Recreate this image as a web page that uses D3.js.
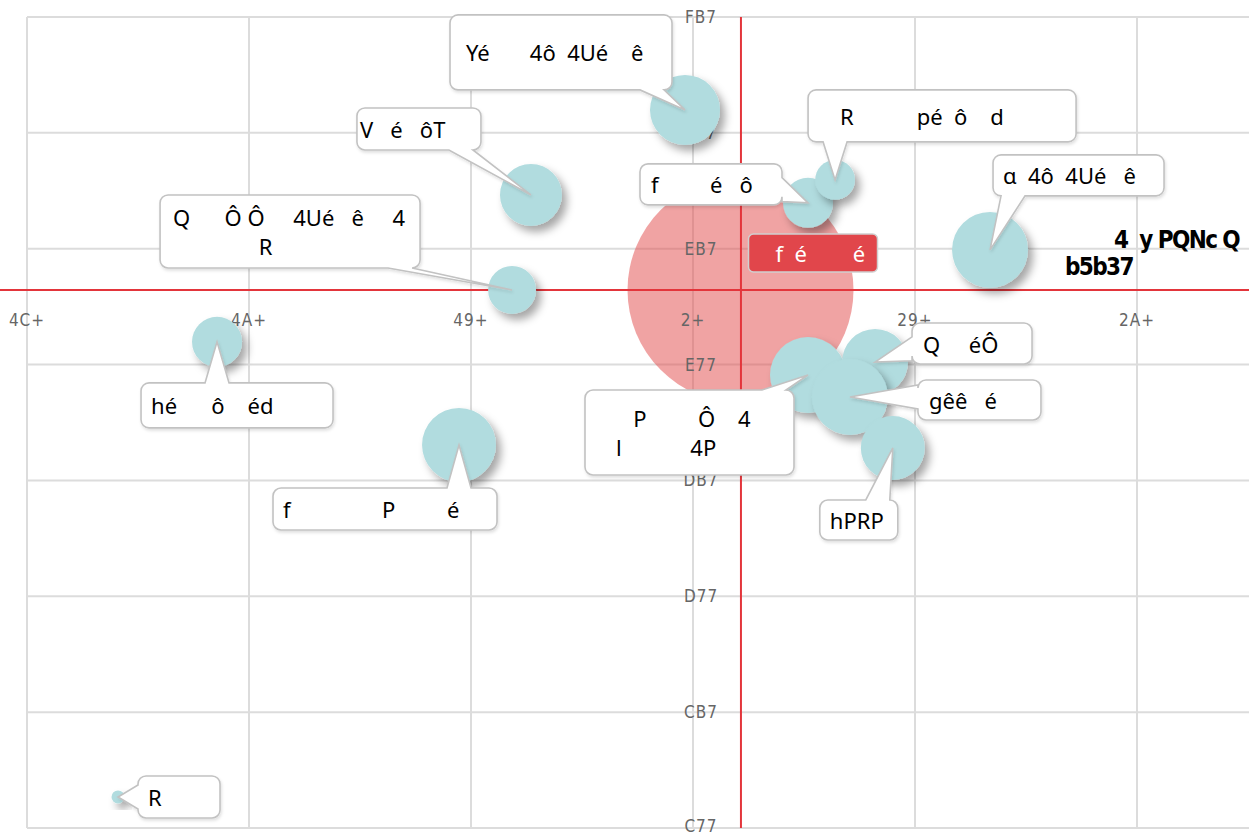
<!DOCTYPE html>
<html>
<head>
<meta charset="utf-8">
<script src="https://cdn.jsdelivr.net/npm/d3@7"></script>
<style>
  html, body { margin: 0; padding: 0; background: #fff; }
  svg { display: block; }
  .tick-label { font-family: "DejaVu Sans Condensed", "DejaVu Sans", sans-serif; font-stretch: condensed; font-size: 17px; fill: #666; letter-spacing: 1px; }
  .box-text { font-family: "Noto Sans", "Open Sans", sans-serif; font-size: 22px; fill: #000; white-space: pre; }
  .mark-text { font-family: "DejaVu Sans Condensed", "DejaVu Sans", sans-serif; font-stretch: condensed; font-weight: bold; font-size: 24px; fill: #000; white-space: pre; letter-spacing: -1.6px; }
</style>
</head>
<body>
<svg id="chart" width="1249" height="836"></svg>
<script>
// ---------------- data ----------------
const xTickValues = [-30, -20, -10, 0, 10, 20];
const xTickLabels = ["4C+", "4A+", "49+", "2+", "29+", "2A+"];
const yTickValues = [300, 350, 400, 450, 500, 550, 600, 650];
const yTickLabels = ["C77", "CB7", "D77", "DB7", "E77", "EB7", "F77", "FB7"];

const bubbleLabels = [
  ["Yé       4ô  4Ué    ê"],
  ["V   é   ôT"],
  ["Q      Ô Ô     4Ué   ê     4", "               R"],
  ["hé      ô    éd"],
  ["f                P         é"],
  ["R"],
  ["f         é   ô"],
  ["R           pé  ô    d"],
  ["ɑ  4ô  4Ué   ê"],
  ["   P         Ô    4", "l            4P"],
  ["Q     éÔ"],
  ["gêê   é"],
  ["hPRP"]
];
const bubbleX    = [-0.36, -7.30, -8.15, -21.44, -10.54, -25.9, 5.18, 6.40, 13.38, 5.18, 8.20, 7.07, 9.00];
const bubbleY    = [609.9, 573.2, 532.2, 509.8, 465.3, 313.4, 569.8, 579.7, 549.5, 495.5, 501.1, 486.0, 464.0];
const bubbleSize = [96, 75, 45, 49, 107, 3.3, 49, 31, 113, 113, 85, 113, 80];

const focusLabel = ["f  é        é"];
const focusX = 2.14;
const focusY = 532.2;
const focusSize = 1000;

const avgX = 2.16;
const avgY = 532.2;
const avgLabel = ["4  y PQNc Q", "b5b37"];

// ---------------- layout (label boxes relative to their bubble) ----------------
const labelLayout = [
  {dx: -235, dy: -95, w: 222, h: 75, pad: 16},
  {dx: -174, dy: -87, w: 124, h: 42, pad: 3},
  {dx: -352, dy: -95, w: 260, h: 73, pad: 13},
  {dx: -76,  dy: 41,  w: 192, h: 45, pad: 10},
  {dx: -186, dy: 43,  w: 224, h: 42, pad: 10},
  {dx: 20,   dy: -21, w: 82,  h: 42, pad: 10},
  {dx: -168, dy: -39, w: 142, h: 41, pad: 11},
  {dx: -27,  dy: -90, w: 268, h: 52, pad: 32},
  {dx: 3,    dy: -95, w: 171, h: 41, pad: 10},
  {dx: -223, dy: 15,  w: 209, h: 85, pad: 31},
  {dx: 37,   dy: -39, w: 120, h: 41, pad: 11},
  {dx: 68,   dy: -17, w: 123, h: 40, pad: 11},
  {dx: -73,  dy: 52,  w: 78,  h: 40, pad: 10}
];
const focusLayout = {dx: 8, dy: -56, w: 129, h: 38, pad: 27};

// ---------------- chart ----------------
const W = 1249, H = 836;
const svg = d3.select("#chart");
const x = d3.scaleLinear().domain([-30, 20]).range([27, 1137]);
const y = d3.scaleLinear().domain([300, 650]).range([828, 17]);
const r = d3.scaleSqrt().domain([0, 1000]).range([0, 113]);
const plotRight = W;

const defs = svg.append("defs");
const sh = defs.append("filter").attr("id", "shadow").attr("x", "-50%").attr("y", "-50%").attr("width", "200%").attr("height", "200%");
sh.append("feDropShadow").attr("dx", 5).attr("dy", 6).attr("stdDeviation", 4).attr("flood-color", "#000").attr("flood-opacity", 0.35);
const sh2 = defs.append("filter").attr("id", "boxshadow").attr("x", "-20%").attr("y", "-20%").attr("width", "140%").attr("height", "140%");
sh2.append("feDropShadow").attr("dx", 1).attr("dy", 2).attr("stdDeviation", 1.5).attr("flood-color", "#000").attr("flood-opacity", 0.12);

// grid
const grid = svg.append("g");
grid.selectAll("line.v").data(xTickValues).join("line")
  .attr("x1", d => x(d)).attr("x2", d => x(d))
  .attr("y1", y(650)).attr("y2", y(300))
  .attr("stroke", "#dcdcdc").attr("stroke-width", 2);
grid.selectAll("line.h").data(yTickValues).join("line")
  .attr("x1", x(-30)).attr("x2", plotRight)
  .attr("y1", d => y(d)).attr("y2", d => y(d))
  .attr("stroke", "#dcdcdc").attr("stroke-width", 2);

// focus bubble
svg.append("circle")
  .attr("cx", x(focusX)).attr("cy", y(focusY)).attr("r", r(focusSize))
  .attr("fill", "rgba(226,72,72,0.5)");

// axis labels
const xAxisY = y(avgY) + 30;
svg.append("g").selectAll("text").data(xTickValues).join("text")
  .attr("class", "tick-label")
  .attr("x", d => x(d)).attr("y", xAxisY)
  .attr("text-anchor", "middle").attr("dominant-baseline", "central")
  .text((d, i) => xTickLabels[i]);
svg.append("g").selectAll("text").data(yTickValues).join("text")
  .attr("class", "tick-label")
  .attr("x", x(0) + 8).attr("y", d => Math.min(y(d), 826))
  .attr("text-anchor", "middle").attr("dominant-baseline", "central")
  .text((d, i) => yTickLabels[i]);

// average lines
svg.append("line")
  .attr("x1", 0).attr("x2", W).attr("y1", y(avgY)).attr("y2", y(avgY))
  .attr("stroke", "#e3353b").attr("stroke-width", 2);
svg.append("line")
  .attr("x1", x(avgX)).attr("x2", x(avgX)).attr("y1", y(650)).attr("y2", y(300))
  .attr("stroke", "#e3353b").attr("stroke-width", 2);

// bubbles
const pts = bubbleX.map((v, i) => ({
  cx: x(v), cy: y(bubbleY[i]), rr: r(bubbleSize[i]), lines: bubbleLabels[i], lay: labelLayout[i]
}));
svg.append("g").selectAll("circle").data(pts).join("circle")
  .attr("cx", d => d.cx).attr("cy", d => d.cy).attr("r", d => d.rr)
  .attr("fill", "#b1dcdf").attr("filter", "url(#shadow)");

// callout path
function calloutPath(bx, by, w, h, rad, tx, ty) {
  const hw = 12;
  let side;
  if (ty < by) side = "top";
  else if (ty > by + h) side = "bottom";
  else if (tx < bx) side = "left";
  else side = "right";
  const cx = Math.max(bx + rad + hw, Math.min(bx + w - rad - hw, tx));
  const cy = Math.max(by + rad + hw * 0.6, Math.min(by + h - rad - hw * 0.6, ty));
  const hv = Math.min(hw, (h - 2 * rad) / 2);
  let p = `M${bx + rad},${by}`;
  if (side === "top") p += `L${cx - hw},${by}L${tx},${ty}L${cx + hw},${by}`;
  p += `L${bx + w - rad},${by}A${rad},${rad} 0 0 1 ${bx + w},${by + rad}`;
  if (side === "right") p += `L${bx + w},${cy - hv}L${tx},${ty}L${bx + w},${cy + hv}`;
  p += `L${bx + w},${by + h - rad}A${rad},${rad} 0 0 1 ${bx + w - rad},${by + h}`;
  if (side === "bottom") p += `L${cx + hw},${by + h}L${tx},${ty}L${cx - hw},${by + h}`;
  p += `L${bx + rad},${by + h}A${rad},${rad} 0 0 1 ${bx},${by + h - rad}`;
  if (side === "left") p += `L${bx},${cy + hv}L${tx},${ty}L${bx},${cy - hv}`;
  p += `L${bx},${by + rad}A${rad},${rad} 0 0 1 ${bx + rad},${by}Z`;
  return p;
}

const lineH = 29;
const lg = svg.append("g");
pts.forEach(d => {
  const L = d.lay;
  const bx = d.cx + L.dx, by = d.cy + L.dy;
  lg.append("path")
    .attr("d", calloutPath(bx, by, L.w, L.h, 8, d.cx, d.cy))
    .attr("fill", "#fff").attr("stroke", "#c2c2c2").attr("stroke-width", 1.6)
    .attr("filter", "url(#boxshadow)");
  const n = d.lines.length;
  const mid = by + L.h / 2;
  d.lines.forEach((t, k) => {
    lg.append("text").attr("class", "box-text")
      .attr("x", bx + L.pad)
      .attr("y", mid + (k - (n - 1) / 2) * lineH)
      .attr("dominant-baseline", "central")
      .text(t);
  });
});

// focus label
{
  const fx = x(focusX), fy = y(focusY), L = focusLayout;
  const bx = fx + L.dx, by = fy + L.dy;
  lg.append("rect").attr("x", bx).attr("y", by).attr("width", L.w).attr("height", L.h)
    .attr("rx", 5).attr("fill", "#e1464b").attr("stroke", "#d0d0d0").attr("stroke-width", 1.5);
  lg.append("text").attr("class", "box-text")
    .attr("x", bx + L.pad).attr("y", by + L.h / 2)
    .attr("dominant-baseline", "central").style("fill", "#fff")
    .text(focusLabel[0]);
}

// average line label
svg.append("text").attr("class", "mark-text")
  .attr("x", W - 10).attr("y", y(avgY) - 50).attr("text-anchor", "end")
  .attr("dominant-baseline", "central").text(avgLabel[0]);
svg.append("text").attr("class", "mark-text")
  .attr("x", x(avgX) + 392).attr("y", y(avgY) - 23).attr("text-anchor", "end")
  .attr("dominant-baseline", "central").text(avgLabel[1]);
</script>
</body>
</html>
